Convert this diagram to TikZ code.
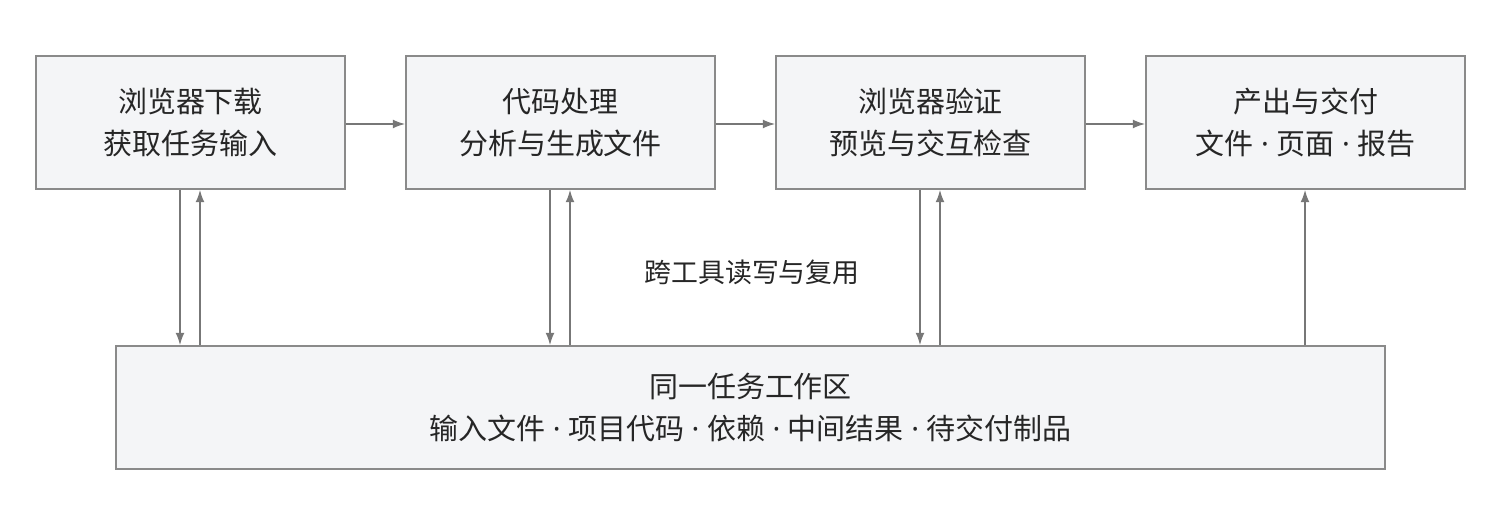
\documentclass[tikz,border=0pt]{standalone}
\usepackage{fontspec}
\setmainfont{Noto Sans CJK SC}
\newfontfamily\latdot{Noto Sans}
\newcommand{\md}{{\latdot\ ·\ }}
\usetikzlibrary{arrows.meta}
\definecolor{boxfill}{HTML}{F4F5F7}
\definecolor{boxline}{HTML}{8A8A8A}
\definecolor{arr}{HTML}{777777}
\begin{document}
\begin{tikzpicture}[x=0.02cm,y=-0.02cm,
  box/.style={draw=boxline,fill=boxfill,line width=0.9pt,align=center,font=\fontsize{16.5}{24}\selectfont,text=black!85,inner sep=0},
  con/.style={draw=arr,line width=0.9pt,-{Latex[length=7pt,width=5pt]}}]
\useasboundingbox (0,0) rectangle (1500,520);
\node[box,minimum width=6.18cm,minimum height=2.66cm] (b1) at (190.5,122.5) {浏览器下载\\获取任务输入};
\node[box,minimum width=6.18cm,minimum height=2.66cm] (b2) at (560.5,122.5) {代码处理\\分析与生成文件};
\node[box,minimum width=6.18cm,minimum height=2.66cm] (b3) at (930.5,122.5) {浏览器验证\\预览与交互检查};
\node[box,minimum width=6.38cm,minimum height=2.66cm] (b4) at (1305.5,122.5) {产出与交付\\文件\md 页面\md 报告};
\node[box,minimum width=25.38cm,minimum height=2.46cm] (w) at (750.5,407.5) {同一任务工作区\\输入文件\md 项目代码\md 依赖\md 中间结果\md 待交付制品};
\node[font=\fontsize{15.3}{16}\selectfont,text=black!85] (lab) at (752,272) {跨工具读写与复用};
\draw[con] (b1.east|-0,124) -- (b2.west|-0,124);
\draw[con] (b2.east|-0,124) -- (b3.west|-0,124);
\draw[con] (b3.east|-0,124) -- (b4.west|-0,124);
\draw[con] (b1.south-|180,0) -- (w.north-|180,0);
\draw[con] (w.north-|200,0) -- (b1.south-|200,0);
\draw[con] (b2.south-|550,0) -- (w.north-|550,0);
\draw[con] (w.north-|570,0) -- (b2.south-|570,0);
\draw[con] (b3.south-|920,0) -- (w.north-|920,0);
\draw[con] (w.north-|940,0) -- (b3.south-|940,0);
\draw[con] (w.north-|1305,0) -- (b4.south-|1305,0);
\end{tikzpicture}
\end{document}
